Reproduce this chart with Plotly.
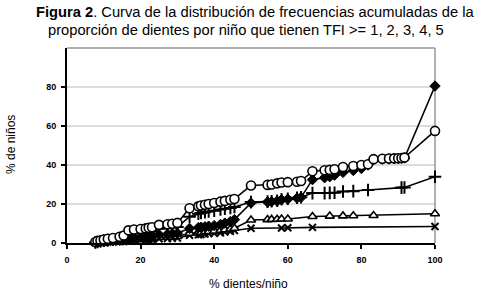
import plotly.graph_objects as go

# ---- data ----
circ_x = [7.7, 8.3, 9.1, 10, 11.1, 12.5, 14.3, 15.4, 16.7, 18.2, 20, 21.4, 22.2, 23.1, 25, 27.3, 28.6, 30,
          33.3, 35.7, 36.4, 37.5, 38.5, 40, 41.7, 42.9, 44.4, 45.5, 50, 54.5, 55.6, 57.1, 58.3, 60, 62.5, 63.6,
          66.7, 70, 71.4, 72.7, 75, 77.8, 80, 81.8, 83.3, 85.7, 87.5, 88.9, 90, 90.9, 91.7, 100]
circ_y = [0.5, 1.0, 1.3, 1.8, 2.2, 2.6, 3.2, 3.8, 6.5, 6.9, 7.2, 7.5, 7.8, 8.1, 9.3, 9.6, 9.9, 10.3,
          17.8, 18.8, 19.2, 19.6, 20.0, 20.5, 21.2, 21.6, 22.2, 22.6, 29.5, 29.8, 30.0, 30.6, 31.0, 31.2, 31.4, 31.8,
          36.8, 37.3, 37.5, 37.8, 39.0, 39.5, 40.0, 40.4, 43.0, 43.2, 43.3, 43.4, 43.5, 43.6, 43.8, 57.5]

plus_x = [7.7, 8.3, 9.1, 10, 11.1, 12.5, 14.3, 15.4, 16.7, 18.2, 20, 21.4, 22.2, 23.1, 25, 27.3, 28.6, 30,
          33.3, 35.7, 36.4, 37.5, 38.5, 40, 41.7, 42.9, 44.4, 45.5, 50, 54.5, 55.6, 57.1, 58.3, 60, 62.5, 63.6,
          66.7, 70, 71.4, 72.7, 75, 77.8, 81.8, 90.9, 91.7, 100]
plus_y = [0.3, 0.6, 0.9, 1.2, 1.5, 1.8, 2.2, 2.5, 4.6, 5.0, 5.3, 5.6, 5.8, 6.0, 7.3, 7.6, 7.8, 8.2,
          13.5, 15.0, 15.4, 15.8, 16.2, 16.6, 17.2, 17.6, 18.0, 18.5, 21.0, 21.2, 21.4, 21.7, 22.4, 22.7, 23.2, 23.5,
          25.6, 25.6, 25.7, 25.8, 26.4, 26.6, 27.2, 28.4, 28.5, 34.0]

diam_x = [7.7, 8.3, 9.1, 10, 11.1, 12.5, 14.3, 15.4, 16.7, 18.2, 20, 21.4, 22.2, 23.1, 25, 27.3, 28.6, 30,
          33.3, 35.7, 36.4, 37.5, 38.5, 40, 41.7, 42.9, 44.4, 45.5, 50, 54.5, 55.6, 57.1, 58.3, 60, 62.5, 63.6,
          66.7, 70, 71.4, 72.7, 75, 77.8, 80, 81.8, 83.3, 85.7, 87.5, 88.9, 90, 90.9, 91.7, 100]
diam_y = [0.2, 0.4, 0.6, 0.8, 1.0, 1.2, 1.5, 1.7, 2.5, 2.8, 3.0, 3.2, 3.4, 3.6, 4.3, 4.5, 4.7, 5.0,
          7.5, 7.9, 8.1, 8.3, 8.6, 8.9, 9.5, 10.2, 11.0, 12.0, 20.5, 21.0, 21.2, 21.5, 22.2, 22.5, 23.0, 23.4,
          32.5, 33.5, 34.0, 34.8, 36.2, 37.2, 38.2, 40.0, 42.8, 43.0, 43.1, 43.2, 43.3, 43.4, 43.6, 80.5]

tri_x = [7.7, 8.3, 9.1, 10, 11.1, 12.5, 14.3, 15.4, 16.7, 18.2, 20, 21.4, 22.2, 23.1, 25, 27.3, 28.6, 30,
         33.3, 35.7, 36.4, 37.5, 38.5, 40, 41.7, 42.9, 44.4, 45.5, 50, 54.5, 55.6, 57.1, 58.3, 60,
         66.7, 71.4, 75, 77.8, 83.3, 100]
tri_y = [0.2, 0.3, 0.4, 0.5, 0.6, 0.8, 1.0, 1.1, 1.6, 1.8, 2.0, 2.1, 2.2, 2.3, 2.8, 3.0, 3.1, 3.3,
         5.0, 5.3, 5.5, 5.7, 5.9, 6.1, 6.5, 6.8, 7.2, 7.6, 11.8, 12.0, 12.1, 12.2, 12.3, 12.3,
         13.6, 13.8, 13.9, 14.0, 14.1, 15.0]

xm_x = [7.7, 8.3, 9.1, 10, 11.1, 12.5, 14.3, 15.4, 16.7, 18.2, 20, 21.4, 22.2, 23.1, 25, 27.3, 28.6, 30,
        33.3, 35.7, 36.4, 37.5, 38.5, 40, 41.7, 42.9, 44.4, 45.5, 50, 58.3, 60, 66.7, 100]
xm_y = [0.1, 0.2, 0.3, 0.4, 0.5, 0.6, 0.7, 0.8, 1.2, 1.4, 1.5, 1.6, 1.7, 1.8, 2.2, 2.3, 2.4, 2.5,
        4.0, 4.2, 4.4, 4.6, 4.8, 5.0, 5.3, 5.6, 6.0, 6.4, 7.6, 7.7, 7.8, 8.0, 8.5]

x_ticks = [0, 20, 40, 60, 80, 100]
y_ticks = [0, 20, 40, 60, 80]

FONT = "Arial, Liberation Sans, sans-serif"

# plot area in page pixels
PL, PR, PT, PB = 67, 435, 48, 243
PW, PH = PR - PL, PB - PT

def px(xp):
    return (xp - PL) / PW

def py(yp):
    return (PB - yp) / PH

fig = go.Figure()

def add(xs, ys, symbol, size, fill, lw):
    fig.add_trace(go.Scatter(
        x=xs, y=ys, mode="lines+markers", cliponaxis=False,
        line=dict(color="black", width=1.6),
        marker=dict(symbol=symbol, size=size, color=fill, line=dict(color="black", width=lw)),
        showlegend=False, hoverinfo="skip"))

add(xm_x, xm_y, "x-thin", 7, "black", 2)
add(tri_x, tri_y, "triangle-up", 8, "white", 1.6)
add(diam_x, diam_y, "diamond", 8, "black", 1)
add(plus_x, plus_y, "cross-thin", 9, "black", 2)
add(circ_x, circ_y, "circle", 9, "white", 1.6)

fig.update_layout(
    width=483, height=292, autosize=False,
    margin=dict(l=PL, r=483 - PR, t=PT, b=292 - PB, pad=0),
    paper_bgcolor="white", plot_bgcolor="white",
    font=dict(family=FONT, color="black"),
    xaxis=dict(range=[0, 100], tickvals=x_ticks, ticktext=[f"<b>{v}</b>" for v in x_ticks],
               showgrid=False, zeroline=False, showline=True, linecolor="black", linewidth=2,
               ticks="outside", ticklen=4, tickwidth=2, tickcolor="black",
               ticklabelstandoff=3, automargin=False,
               tickfont=dict(size=9, family=FONT)),
    yaxis=dict(range=[0, 100], tickvals=y_ticks, ticktext=[f"<b>{v}</b>" for v in y_ticks],
               showgrid=False, zeroline=False, showline=True, linecolor="black", linewidth=2,
               ticks="outside", ticklen=4, tickwidth=2, tickcolor="black",
               ticklabelstandoff=3, automargin=False,
               tickfont=dict(size=9, family=FONT)),
)

# gridlines and grey top/right border
for v in [20, 40, 60, 80]:
    fig.add_shape(type="line", xref="paper", yref="y", x0=0, x1=1, y0=v, y1=v,
                  line=dict(color="#ccd3cf", width=1.5), layer="below")
fig.add_shape(type="line", xref="paper", yref="paper", x0=0, x1=1, y0=1, y1=1,
              line=dict(color="#8f9994", width=1.5), layer="below")
fig.add_shape(type="line", xref="paper", yref="paper", x0=1, x1=1, y0=0, y1=1,
              line=dict(color="#8f9994", width=1.5), layer="below")

# titles
fig.add_annotation(xref="paper", yref="paper", x=px(34), y=py(12),
                   xanchor="left", yanchor="middle", showarrow=False,
                   text="<b>Figura 2</b>. Curva de la distribución de frecuencias acumuladas de la",
                   font=dict(size=14.7, family=FONT, color="black"))
fig.add_annotation(xref="paper", yref="paper", x=px(46), y=py(30),
                   xanchor="left", yanchor="middle", showarrow=False,
                   text="proporción de dientes por niño que tienen TFI >= 1, 2, 3, 4, 5",
                   font=dict(size=14.7, family=FONT, color="black"))
# axis titles
fig.add_annotation(xref="paper", yref="paper", x=px(248), y=py(284),
                   xanchor="center", yanchor="middle", showarrow=False,
                   text="% dientes/niño", font=dict(size=12, family=FONT, color="black"))
fig.add_annotation(xref="paper", yref="paper", x=px(11), y=py(145),
                   xanchor="center", yanchor="middle", showarrow=False, textangle=-90,
                   text="% de niños", font=dict(size=12, family=FONT, color="black"))

fig.write_html("out.html", config={"displayModeBar": False},
               post_script="document.body.style.margin='0px';")
